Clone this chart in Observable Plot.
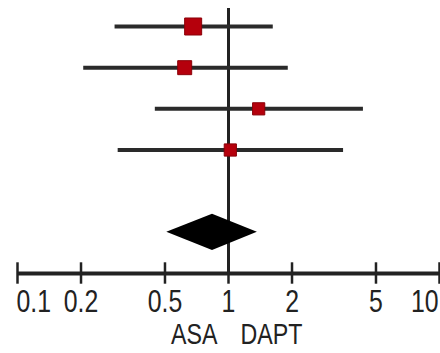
<!DOCTYPE html>
<html><head><meta charset="utf-8">
<script src="https://cdn.jsdelivr.net/npm/d3@7"></script>
<script src="https://cdn.jsdelivr.net/npm/@observablehq/plot@0.6"></script>
<style>html,body{margin:0;padding:0;background:#fff;} #chart svg{display:block;}</style>
</head><body><div id="chart"></div>
<script>
// Studies (rows 1-4): odds ratio point estimates and 95% CI
const rows = [1, 2, 3, 4];
const estimates = [0.68, 0.62, 1.39, 1.02];
const lower = [0.29, 0.206, 0.45, 0.30];
const upper = [1.63, 1.92, 4.36, 3.51];
const weights = [37, 25, 19, 19];
// Pooled estimate (diamond)
const pooledRow = 6;
const pooled = {est: 0.84, lo: 0.51, hi: 1.37};
// Axis
const axisRow = 7;
const tickValues = [0.1, 0.2, 0.5, 1, 2, 5, 10];
const tickLabels = ["0.1", "0.2", "0.5", "1", "2", "5", "10"];
const leftLabel = "ASA";
const rightLabel = "DAPT";

const studies = rows.map((r, i) => ({row: r, est: estimates[i], lo: lower[i], hi: upper[i], w: weights[i]}));
const ticks = tickValues.map((v, i) => ({v, label: tickLabels[i], i}));
const dh = 0.44;
const diamond = [
  {y: pooledRow - dh, x1: pooled.est, x2: pooled.est},
  {y: pooledRow, x1: pooled.lo, x2: pooled.hi},
  {y: pooledRow + dh, x1: pooled.est, x2: pooled.est}
];
const font = "'Liberation Sans', Arial, sans-serif";
const ink = "#222";
const tickFont = 31, labelFont = 29;

const chart = Plot.plot({
  width: 440, height: 353,
  margin: 0,
  style: {fontFamily: font, background: "#fff"},
  x: {type: "log", domain: [0.1, 10], range: [17, 439], axis: null},
  y: {domain: [1, 7], range: [26, 273], axis: null},
  r: {type: "sqrt", domain: [0, 37], range: [0, 9.6]},
  marks: [
    Plot.ruleX([1], {y1: 0.56, y2: axisRow, stroke: ink, strokeWidth: 3}),
    Plot.ruleY([axisRow], {x1: 0.1, x2: 10, stroke: ink, strokeWidth: 4}),
    Plot.ruleX(ticks, {x: "v", y1: axisRow - 0.26, y2: axisRow + 0.26, stroke: ink, strokeWidth: 2.5}),
    Plot.ruleY(studies, {y: "row", x1: "lo", x2: "hi", stroke: "#2a2a2a", strokeWidth: 4}),
    Plot.dot(studies, {x: "est", y: "row", r: "w", symbol: "square", fill: "#b5000c", stroke: "#8a0008", strokeWidth: 1}),
    Plot.areaX(diamond, {y: "y", x1: "x1", x2: "x2", fill: "#000", curve: "linear"}),
    Plot.text(ticks.filter(d => d.i > 0 && d.i < ticks.length - 1), {x: "v", y: axisRow, text: "label", lineAnchor: "bottom", dy: 38, fontSize: tickFont, fill: ink}),
    Plot.text(ticks.filter(d => d.i === 0), {x: "v", y: axisRow, text: "label", lineAnchor: "bottom", dy: 38, dx: -1, textAnchor: "start", fontSize: tickFont, fill: ink}),
    Plot.text(ticks.filter(d => d.i === ticks.length - 1), {x: "v", y: axisRow, text: "label", lineAnchor: "bottom", dy: 38, dx: -1, textAnchor: "end", fontSize: tickFont, fill: ink}),
    Plot.text([1], {x: d => d, y: axisRow, text: () => leftLabel, lineAnchor: "bottom", dy: 70, dx: -11, textAnchor: "end", fontSize: labelFont, fill: ink}),
    Plot.text([1], {x: d => d, y: axisRow, text: () => rightLabel, lineAnchor: "bottom", dy: 70, dx: 12, textAnchor: "start", fontSize: labelFont, fill: ink})
  ]
});
document.getElementById("chart").appendChild(chart);
// condense text horizontally (narrow typeface look), scaling about each text's anchor
d3.select(chart).selectAll("text").each(function () {
  const t = this.getAttribute("transform");
  if (t && /translate/.test(t)) {
    this.setAttribute("transform", t + " scale(0.8,1)");
  } else {
    const x = +(this.getAttribute("x") || 0), y = +(this.getAttribute("y") || 0);
    this.setAttribute("transform", `translate(${x},${y}) scale(0.8,1) translate(${-x},${-y})`);
  }
});
</script></body></html>
